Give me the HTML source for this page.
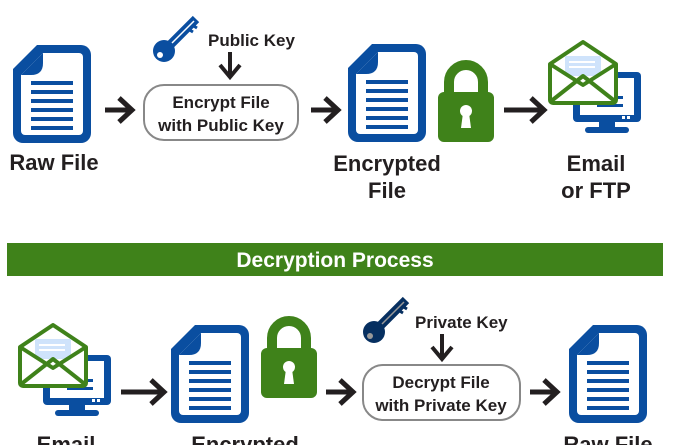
<!DOCTYPE html>
<html><head><meta charset="utf-8"><style>
html,body{margin:0;padding:0;background:#fff;}
svg{display:block;}
text{font-family:"Liberation Sans",sans-serif;font-weight:bold;fill:#231f20;}
</style></head><body>
<svg width="675" height="445" viewBox="0 0 675 445" xmlns="http://www.w3.org/2000/svg">
<defs>
<g id="doc">
<path d="M24,0 H68 a10,10 0 0 1 10,10 V88 a10,10 0 0 1 -10,10 H10 a10,10 0 0 1 -10,-10 V24 Z" fill="#0a4ea0"/>
<path d="M30,8 H66 a4,4 0 0 1 4,4 V86 a4,4 0 0 1 -4,4 H12 a4,4 0 0 1 -4,-4 V30 Z" fill="#fff"/>
<path d="M8,30 L30,8 V18 Q30,30 18,30 Z" fill="#0a4ea0"/>
<g fill="#0a4ea0"><rect x="18" y="36" width="42" height="4"/><rect x="18" y="45" width="42" height="4"/><rect x="18" y="54" width="42" height="4"/><rect x="18" y="63" width="42" height="4"/><rect x="18" y="72" width="42" height="4"/><rect x="18" y="81" width="42" height="4"/></g>
</g>
<g id="lock">
<path d="M11,40 V26 a17,17 0 0 1 34,0 V40" fill="none" stroke="#3f821a" stroke-width="10"/>
<rect x="0" y="36" width="56" height="50" rx="6" fill="#3f821a"/>
<circle cx="28" cy="55" r="6" fill="#fff"/>
<path d="M25,57 L23,72 H33 L31,57 Z" fill="#fff"/>
</g>
<g id="mail">
<rect x="26" y="32" width="68" height="50" rx="4" fill="#0a4ea0"/>
<rect x="33" y="38" width="54" height="37" fill="#fff"/>
<rect x="50" y="56" width="26" height="3" fill="#0a4ea0"/><rect x="50" y="64" width="26" height="3" fill="#0a4ea0"/>
<rect x="75" y="76" width="3" height="3" fill="#fff"/><rect x="80" y="76" width="3" height="3" fill="#fff"/>
<rect x="52" y="82" width="16" height="6" fill="#0a4ea0"/>
<rect x="38" y="87" width="44" height="6" rx="3" fill="#0a4ea0"/>
<path d="M3,24 L36,2 L69,24 V60 a3,3 0 0 1 -3,3 H6 a3,3 0 0 1 -3,-3 Z" fill="#fff" stroke="#3f821a" stroke-width="4" stroke-linejoin="round"/>
<rect x="18" y="16" width="36" height="20" fill="#cfe3fb"/>
<rect x="22" y="21" width="26" height="2" fill="#fff"/><rect x="22" y="26" width="26" height="2" fill="#fff"/>
<path d="M3,24 L36,45 L69,24 M3,62 L36,36 L69,62" fill="none" stroke="#3f821a" stroke-width="4" stroke-linejoin="round"/>
</g>
<g id="key">
<circle cx="12" cy="36" r="11" fill="#0a4ea0"/>
<circle cx="8" cy="40" r="3" fill="#fff"/>
<path d="M14,34 L44,4" stroke="#0a4ea0" stroke-width="9"/>
<path d="M36,14 l5,3 M40,10 l5,3" stroke="#0a4ea0" stroke-width="3"/>
<path d="M20,28 L42,6" stroke="#fff" stroke-width="1.5"/>
</g>
<g id="arr"><path d="M0,0 H26 M14,-12 L27,0 L14,12" fill="none" stroke="#231f20" stroke-width="5" stroke-linejoin="miter"/></g>
<g id="darr"><path d="M0,0 V24 M-10,13 L0,25 L10,13" fill="none" stroke="#231f20" stroke-width="4"/></g>
</defs>

<!-- Top -->
<use href="#doc" x="13" y="45"/>
<use href="#arr" x="105" y="110"/>
<use href="#key" x="152" y="15"/>
<text x="208" y="46" font-size="17">Public Key</text>
<use href="#darr" x="230" y="52"/>
<rect x="144" y="85" width="154" height="55" rx="20" fill="#fff" stroke="#888" stroke-width="2"/>
<text x="221" y="108" font-size="17" text-anchor="middle">Encrypt File</text>
<text x="221" y="131" font-size="17" text-anchor="middle">with Public Key</text>
<use href="#arr" x="311" y="110"/>
<use href="#doc" x="348" y="44"/>
<use href="#lock" x="438" y="56"/>
<path d="M504,110 H543 M531,98 L544,110 L531,122" fill="none" stroke="#231f20" stroke-width="5"/>
<use href="#mail" x="547" y="40"/>
<text x="54" y="170" font-size="22" text-anchor="middle">Raw File</text>
<text x="387" y="171" font-size="22" text-anchor="middle">Encrypted</text>
<text x="387" y="198" font-size="22" text-anchor="middle">File</text>
<text x="596" y="171" font-size="22" text-anchor="middle">Email</text>
<text x="596" y="198" font-size="22" text-anchor="middle">or FTP</text>

<rect x="7" y="243" width="656" height="33" fill="#3f821a"/>
<text x="335" y="267" font-size="21" text-anchor="middle" style="fill:#fff">Decryption Process</text>

<!-- Bottom -->
<use href="#mail" x="17" y="323"/>
<path d="M121,392 H163 M151,380 L164,392 L151,404" fill="none" stroke="#231f20" stroke-width="5"/>
<use href="#doc" x="171" y="325"/>
<use href="#lock" x="261" y="312"/>
<use href="#arr" x="326" y="392"/>
<g transform="translate(362,296)"><use href="#key" x="0" y="0" style="filter:brightness(0.6)"/></g>
<text x="415" y="328" font-size="17">Private Key</text>
<use href="#darr" x="442" y="334"/>
<rect x="363" y="365" width="157" height="55" rx="20" fill="#fff" stroke="#888" stroke-width="2"/>
<text x="441" y="388" font-size="17" text-anchor="middle">Decrypt File</text>
<text x="441" y="411" font-size="17" text-anchor="middle">with Private Key</text>
<use href="#arr" x="530" y="392"/>
<use href="#doc" x="569" y="325"/>
<text x="66" y="452" font-size="22" text-anchor="middle">Email</text>
<text x="245" y="452" font-size="22" text-anchor="middle">Encrypted</text>
<text x="608" y="452" font-size="22" text-anchor="middle">Raw File</text>
</svg>
</body></html>
